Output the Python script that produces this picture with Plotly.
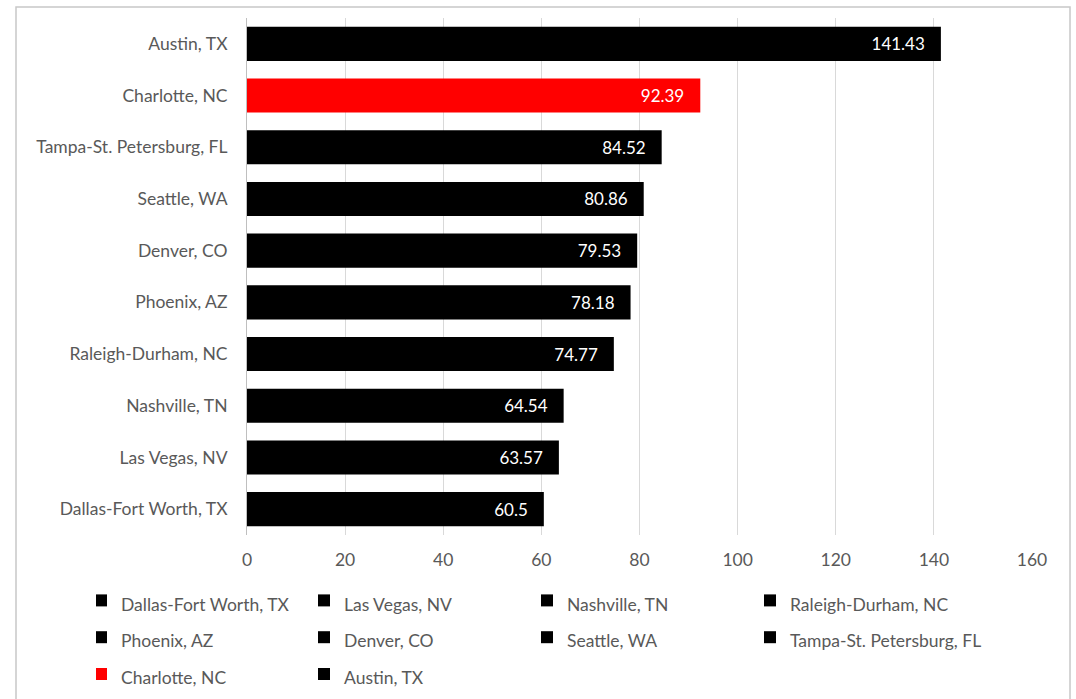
import plotly.graph_objects as go

cities = ["Dallas-Fort Worth, TX", "Las Vegas, NV", "Nashville, TN", "Raleigh-Durham, NC",
          "Phoenix, AZ", "Denver, CO", "Seattle, WA", "Tampa-St. Petersburg, FL",
          "Charlotte, NC", "Austin, TX"]
values = [60.5, 63.57, 64.54, 74.77, 78.18, 79.53, 80.86, 84.52, 92.39, 141.43]
colors = ["#000000"] * 8 + ["#FF0000", "#000000"]
x_ticks = [0, 20, 40, 60, 80, 100, 120, 140, 160]

FONT = "Lato, 'Open Sans', sans-serif"
GRAY = "#595959"

fig = go.Figure()
for c, v, col in zip(cities, values, colors):
    fig.add_trace(go.Bar(
        y=[c], x=[v], orientation="h", name=f'<span style="font-size:17.5px">{c}</span>',
        marker=dict(color=col, line=dict(width=0)), width=0.66,
        text=[v], texttemplate="%{x}\u00a0\u00a0\u00a0", textposition="inside",
        insidetextanchor="end", textfont=dict(color="white", size=17, family=FONT),
        hovertemplate=c + ": %{x}<extra></extra>",
    ))

W, H = 1076, 699
L, R, T, B = 247, 44, 18, 164
pw, ph = W - L - R, H - T - B

def px(x):
    return (x - L) / pw

def py(y):
    return (H - B - y) / ph

fig.update_layout(
    width=W, height=H, margin=dict(l=L, r=R, t=T, b=B, autoexpand=False),
    paper_bgcolor="white", plot_bgcolor="white",
    barmode="overlay", bargap=0.34,
    font=dict(family=FONT, size=17.5, color=GRAY),
    xaxis=dict(range=[0, 160], tickvals=x_ticks, showgrid=True, gridcolor="#d9d9d9",
               gridwidth=1, zeroline=False, showline=False, ticks="",
               ticklabelstandoff=12, tickfont=dict(size=17.5, color=GRAY), fixedrange=True),
    yaxis=dict(categoryorder="array", categoryarray=cities, showline=True,
               linecolor="#bfbfbf", linewidth=1, ticks="", ticklabelstandoff=15,
               tickfont=dict(size=17.5, color=GRAY), showgrid=False, fixedrange=True),
    showlegend=True,
    legend=dict(orientation="h", x=px(96), xanchor="left", y=py(577), yanchor="top",
                entrywidth=193, entrywidthmode="pixels", indentation=-15,
                font=dict(size=26, color=GRAY, family=FONT), traceorder="normal",
                bgcolor="rgba(0,0,0,0)"),
    shapes=[dict(type="rect", xref="paper", yref="paper",
                 x0=px(16), x1=px(1070), y0=py(720), y1=py(7),
                 line=dict(color="#c8c8c8", width=1.5), fillcolor="rgba(0,0,0,0)", layer="below")],
)

fig.write_html("out.html")
